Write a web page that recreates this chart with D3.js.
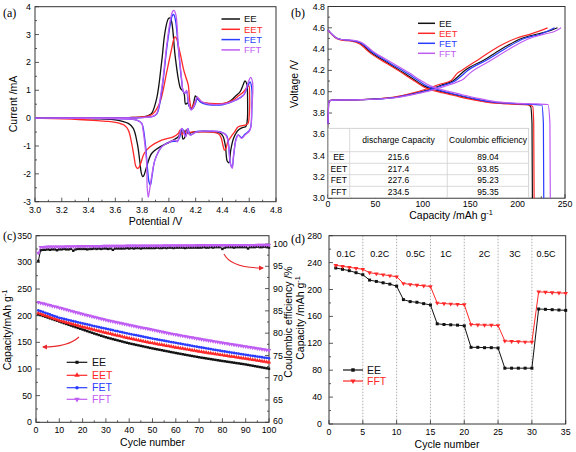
<!DOCTYPE html>
<html><head><meta charset="utf-8">
<script src="https://cdn.jsdelivr.net/npm/d3@7"></script>
<style>body{margin:0;background:#fff}svg{display:block;font-family:"Liberation Sans",Arial,Helvetica,sans-serif}</style>
</head><body><svg id="chart" width="576" height="452"></svg>
<script>
// ---------------- DATA ----------------
const seriesNames = ["EE", "EET", "FET", "FFT"];
const seriesColors = ["#111111", "#ff2828", "#2a3cff", "#bf5cf2"];

// (a) CV loops: [potential V, current mA]
const cvEE = [[3.0,0],[3.5,0.01],[3.7,0.02],[3.8,0.04],[3.85,0.1],[3.871,0.17],[3.909,0.71],[3.946,2.02],[3.971,3.09],[3.996,3.57],[4.008,3.60],[4.021,3.45],[4.046,2.26],[4.07,1.42],[4.088,1.06],[4.105,0.98],[4.115,0.85],[4.125,0.5],[4.14,0.55],[4.155,0.4],[4.17,0.35],[4.185,0.55],[4.198,0.8],[4.215,0.68],[4.24,0.58],[4.28,0.53],[4.35,0.5],[4.42,0.53],[4.46,0.62],[4.5,0.8],[4.531,0.94],[4.555,1.2],[4.568,1.34],[4.581,1.24],[4.588,0.6],[4.585,-0.1],[4.575,-0.3],[4.556,-0.33],[4.526,-0.4],[4.506,-0.5],[4.481,-0.75],[4.462,-1.15],[4.448,-1.6],[4.436,-1.55],[4.422,-1.0],[4.405,-0.66],[4.38,-0.53],[4.33,-0.49],[4.25,-0.48],[4.18,-0.5],[4.145,-0.55],[4.13,-0.42],[4.118,-0.7],[4.105,-0.75],[4.095,-0.45],[4.085,-0.5],[4.07,-0.67],[4.008,-0.85],[3.934,-1.03],[3.871,-1.27],[3.834,-1.74],[3.812,-2.07],[3.804,-2.10],[3.793,-1.95],[3.784,-1.6],[3.764,-0.91],[3.734,-0.37],[3.697,-0.19],[3.6,-0.06],[3.485,-0.03],[3.3,-0.01],[3.0,0]];
const cvEET = [[3.0,0],[3.5,0.01],[3.7,0.02],[3.8,0.04],[3.86,0.1],[3.884,0.17],[3.934,0.58],[3.984,1.66],[4.021,2.5],[4.038,2.86],[4.046,2.92],[4.058,2.85],[4.07,2.62],[4.09,2.2],[4.108,1.78],[4.128,1.45],[4.145,1.18],[4.157,0.58],[4.17,0.35],[4.19,0.55],[4.22,0.71],[4.24,0.6],[4.27,0.55],[4.35,0.52],[4.42,0.54],[4.48,0.65],[4.52,0.8],[4.556,0.94],[4.58,1.08],[4.597,1.17],[4.603,0.8],[4.6,0.1],[4.59,-0.2],[4.568,-0.25],[4.518,-0.31],[4.49,-0.5],[4.465,-0.66],[4.44,-0.85],[4.425,-1.1],[4.415,-1.15],[4.405,-1.0],[4.39,-0.7],[4.37,-0.56],[4.32,-0.5],[4.25,-0.49],[4.17,-0.5],[4.13,-0.55],[4.115,-0.45],[4.1,-0.6],[4.085,-0.42],[4.07,-0.55],[4.033,-0.67],[3.946,-0.79],[3.859,-1.03],[3.815,-1.27],[3.79,-1.62],[3.775,-1.78],[3.764,-1.80],[3.752,-1.72],[3.742,-1.45],[3.722,-0.91],[3.697,-0.43],[3.665,-0.25],[3.635,-0.19],[3.55,-0.12],[3.485,-0.1],[3.3,-0.04],[3.0,0]];
const cvFET = [[3.0,0],[3.6,0.01],[3.8,0.02],[3.88,0.06],[3.91,0.15],[3.946,0.95],[3.984,2.5],[4.008,3.3],[4.025,3.68],[4.035,3.72],[4.048,3.55],[4.07,2.55],[4.095,1.35],[4.108,0.95],[4.12,0.9],[4.133,0.95],[4.145,0.55],[4.165,0.32],[4.18,0.35],[4.2,0.55],[4.212,0.72],[4.23,0.6],[4.26,0.52],[4.32,0.47],[4.4,0.48],[4.45,0.55],[4.5,0.65],[4.556,0.82],[4.593,1.2],[4.606,1.3],[4.618,1.1],[4.62,0.4],[4.606,-0.4],[4.568,-0.58],[4.543,-0.7],[4.518,-0.6],[4.501,-0.75],[4.485,-1.3],[4.472,-1.75],[4.458,-1.6],[4.446,-0.95],[4.43,-0.62],[4.39,-0.5],[4.3,-0.47],[4.21,-0.48],[4.16,-0.6],[4.143,-0.38],[4.127,-0.65],[4.11,-0.45],[4.097,-0.38],[4.08,-0.7],[4.063,-0.82],[4.008,-0.85],[3.946,-1.03],[3.896,-1.5],[3.875,-2.05],[3.862,-2.40],[3.852,-2.3],[3.84,-1.8],[3.826,-1.0],[3.808,-0.35],[3.797,-0.19],[3.76,-0.07],[3.6,-0.02],[3.0,0]];
const cvFFT = [[3.0,0],[3.6,0.01],[3.8,0.02],[3.88,0.06],[3.909,0.17],[3.946,1.06],[3.984,2.62],[4.008,3.45],[4.028,3.83],[4.038,3.87],[4.053,3.69],[4.07,2.62],[4.095,1.42],[4.108,0.94],[4.12,0.9],[4.133,1.0],[4.145,0.6],[4.165,0.29],[4.185,0.4],[4.212,0.76],[4.23,0.65],[4.25,0.58],[4.3,0.5],[4.4,0.5],[4.45,0.56],[4.5,0.65],[4.556,0.82],[4.593,1.30],[4.611,1.46],[4.626,1.24],[4.618,0.29],[4.606,-0.43],[4.568,-0.61],[4.543,-0.73],[4.518,-0.61],[4.501,-0.79],[4.481,-1.39],[4.474,-1.80],[4.462,-1.7],[4.45,-1.2],[4.438,-0.75],[4.42,-0.58],[4.38,-0.49],[4.3,-0.47],[4.208,-0.49],[4.157,-0.61],[4.14,-0.37],[4.125,-0.67],[4.095,-0.37],[4.063,-0.85],[4.046,-0.79],[4.008,-0.85],[3.946,-1.03],[3.896,-1.5],[3.871,-2.10],[3.855,-2.6],[3.846,-2.84],[3.838,-2.5],[3.834,-1.62],[3.82,-0.91],[3.806,-0.4],[3.797,-0.19],[3.76,-0.07],[3.6,-0.02],[3.0,0]];

// (b) charge / discharge: [capacity mAh/g, voltage V]
const chgEE  = [[0,3.7],[1,3.91],[5,3.92],[35,3.925],[70,3.947],[91,3.985],[105,4.016],[120,4.063],[132,4.103],[139,4.157],[144,4.197],[165,4.30],[186,4.417],[204,4.50],[221,4.542],[235,4.575],[242.1,4.60]];
const chgEET = [[0,3.7],[1,3.91],[5,3.92],[35,3.925],[70,3.95],[90,3.99],[104,4.025],[118,4.07],[130,4.105],[136,4.17],[141,4.20],[160,4.31],[180,4.425],[198,4.50],[215,4.545],[231.6,4.60]];
const chgFET = [[0,3.7],[1,3.91],[5,3.92],[35,3.925],[70,3.945],[92,3.983],[106,4.013],[121,4.058],[134,4.10],[141,4.15],[146,4.19],[168,4.30],[189,4.415],[207,4.50],[224,4.54],[239,4.60]];
const chgFFT = [[0,3.7],[1,3.91],[5,3.92],[35,3.925],[70,3.943],[93,3.98],[108,4.01],[123,4.05],[136,4.09],[143,4.12],[149,4.17],[171,4.29],[193,4.41],[211,4.495],[228,4.54],[240,4.57],[245.9,4.60]];
const disEE  = [[0,4.58],[3,4.55],[8,4.51],[14,4.49],[25,4.48],[33,4.46],[45,4.37],[63,4.27],[81,4.17],[93,4.10],[102,4.05],[116,4.01],[134,3.97],[151,3.935],[169,3.905],[190,3.89],[210,3.88],[213.8,3.86],[215.2,3.7],[215.6,3.0]];
const disEET = [[0,4.575],[3,4.545],[8,4.505],[14,4.485],[25,4.475],[33,4.45],[45,4.36],[63,4.26],[81,4.16],[93,4.09],[102,4.04],[116,4.0],[134,3.962],[151,3.928],[169,3.9],[190,3.885],[212,3.877],[216,3.86],[217,3.7],[217.4,3.0]];
const disFET = [[0,4.58],[3,4.55],[8,4.51],[14,4.49],[25,4.48],[34,4.46],[47,4.37],[65,4.27],[84,4.17],[96,4.10],[105,4.05],[119,4.01],[137,3.97],[154,3.935],[172,3.905],[194,3.89],[215,3.88],[225.5,3.875],[227.2,3.7],[227.6,3.0]];
const disFFT = [[0,4.58],[3,4.55],[8,4.51],[14,4.49],[25,4.485],[35,4.465],[48,4.375],[67,4.275],[86,4.175],[98,4.105],[108,4.055],[122,4.015],[140,3.975],[157,3.94],[175,3.91],[197,3.893],[220,3.885],[232,3.88],[234.1,3.7],[234.5,3.0]];

// table in (b)
const tableHead = ["", "discharge Capacity", "Coulombic efficiency"];
const tableCap = ["215.6", "217.4", "227.6", "234.5"];
const tableCE = ["89.04", "93.85", "95.23", "95.35"];

// (c) cycling: capacity (mAh/g) per cycle 1..100
const capEE = [202.5,201,199.5,198,196.5,195,193.5,192,190.5,189,
187.5,186,184.5,183,181.5,180,178.5,177,175.5,174,
172.5,171,169.5,168,166.5,165.1,163.7,162.3,160.9,159.5,
158.3,157.2,156.0,154.9,153.7,152.6,151.5,150.3,149.2,148.1,
147.1,146.2,145.2,144.3,143.3,142.4,141.4,140.5,139.5,138.6,
137.7,136.9,136.0,135.2,134.3,133.5,132.6,131.7,130.9,130.0,
129.2,128.4,127.6,126.8,126.0,125.2,124.4,123.6,122.8,122.0,
121.3,120.6,119.9,119.2,118.5,117.8,117.1,116.4,115.7,115.0,
114.4,113.7,113.1,112.4,111.8,111.1,110.5,109.8,109.2,108.5,
107.7,106.9,106.1,105.3,104.5,103.7,102.9,102.1,101.3,100.5];
const capEET = [205,203.4,201.9,200.3,198.8,197.2,195.7,194.1,192.6,191,
189.8,188.6,187.4,186.2,185,183.8,182.6,181.4,180.2,179,
177.9,176.8,175.7,174.6,173.5,172.4,171.3,170.2,169.1,168,
167,165.9,164.9,163.8,162.8,161.7,160.7,159.6,158.6,157.5,
156.6,155.7,154.8,153.9,153,152.1,151.2,150.3,149.4,148.5,
147.7,146.9,146.1,145.3,144.5,143.7,142.9,142.1,141.3,140.5,
139.8,139,138.3,137.5,136.8,136,135.3,134.5,133.8,133,
132.3,131.6,130.9,130.2,129.5,128.8,128.1,127.4,126.7,126,
125.4,124.7,124.1,123.4,122.8,122.1,121.5,120.8,120.2,119.5,
118.8,118.1,117.4,116.7,116,115.3,114.6,113.9,113.2,112.5];
const capFET = [210,208.4,206.9,205.3,203.8,202.2,200.7,199.1,197.6,196,
195,193.9,192.9,191.8,190.8,189.7,188.7,187.6,186.6,185.5,
184.5,183.5,182.5,181.5,180.5,179.5,178.5,177.5,176.5,175.5,
174.6,173.6,172.7,171.7,170.8,169.8,168.9,167.9,167,166,
165.1,164.2,163.3,162.4,161.5,160.6,159.7,158.8,157.9,157,
156.2,155.4,154.6,153.8,153,152.2,151.4,150.6,149.8,149,
148.2,147.4,146.6,145.8,145,144.2,143.4,142.6,141.8,141,
140.3,139.5,138.8,138,137.3,136.5,135.8,135,134.3,133.5,
132.8,132.1,131.4,130.7,130,129.3,128.6,127.9,127.2,126.5,
125.9,125.2,124.6,123.9,123.3,122.6,122,121.3,120.7,120];
const capFFT = [225,223.9,222.8,221.7,220.6,219.4,218.3,217.2,216.1,215,
213.8,212.6,211.4,210.2,209,207.8,206.6,205.4,204.2,203,
201.9,200.8,199.7,198.6,197.5,196.4,195.3,194.2,193.1,192,
191.1,190.1,189.2,188.2,187.3,186.3,185.4,184.4,183.5,182.5,
181.6,180.7,179.8,178.9,178,177.1,176.2,175.3,174.4,173.5,
172.6,171.7,170.8,169.9,169,168.1,167.2,166.3,165.4,164.5,
163.7,162.9,162.1,161.3,160.5,159.7,158.9,158.1,157.3,156.5,
155.8,155,154.3,153.5,152.8,152,151.3,150.5,149.8,149,
148.3,147.6,146.9,146.2,145.5,144.8,144.1,143.4,142.7,142,
141.3,140.6,139.9,139.2,138.5,137.8,137.1,136.4,135.7,135];
// (c) coulombic efficiency (%) per cycle
const ceEE = [96.2,98.6,98.7,98.7,98.8,98.7,98.8,98.8,98.6,98.8,
98.8,98.9,98.8,98.8,98.9,98.5,98.8,98.9,98.9,98.9,
98.9,98.8,98.9,98.9,99.0,98.9,99.0,98.9,99.0,99.0,
98.9,99.0,98.7,99.0,99.0,99.0,99.0,99.0,99.1,99.0,
99.1,99.0,99.1,99.1,99.0,99.1,99.1,99.1,99.1,99.1,
99.1,99.2,99.1,99.1,99.2,99.1,99.2,99.2,99.1,99.2,
99.2,99.2,99.2,99.1,99.2,99.2,99.2,99.2,99.2,99.2,
99.2,99.3,99.2,99.2,99.3,99.2,99.3,99.3,99.3,98.9,
99.2,99.3,99.3,99.3,99.2,99.3,99.3,99.3,99.3,99.3,
99.0,99.3,99.3,99.3,99.4,99.3,99.3,99.4,99.3,99.2];
const ceFFT = [98.0,99.3,99.3,99.35,99.4,99.4,99.4,99.4,99.4,99.4,
99.4,99.4,99.45,99.45,99.45,99.45,99.45,99.5,99.5,99.5,
99.5,99.5,99.5,99.5,99.5,99.5,99.5,99.5,99.55,99.55,
99.55,99.55,99.55,99.55,99.55,99.55,99.55,99.55,99.6,99.6,
99.6,99.6,99.6,99.6,99.6,99.6,99.6,99.6,99.6,99.6,
99.6,99.6,99.6,99.6,99.65,99.65,99.65,99.65,99.65,99.65,
99.65,99.65,99.65,99.65,99.65,99.65,99.65,99.65,99.7,99.7,
99.7,99.7,99.7,99.7,99.7,99.7,99.7,99.7,99.7,99.7,
99.7,99.7,99.7,99.75,99.75,99.75,99.75,99.75,99.75,99.75,
99.75,99.75,99.75,99.75,99.8,99.8,99.8,99.8,99.8,99.8];

// (d) rate capability, cycles 1..35
const rateEE = [232,230,228,225,222,214,212,210,208,205,185,182,181,179,177,149,148,147.5,147,146,114,114,113.5,113.5,113,83,83,83,83,83,171,170.5,170,169.5,169];
const rateFFT = [236,234.5,233,231.5,230,225,223.5,222,220.5,219,209,207.5,206.5,205.5,204.5,180,179,178.5,178,177.5,148,147.5,147,147,146.5,123.5,123,122.5,122,122,196.5,196,195.5,195,194.5];
const rateLabels = ["0.1C","0.2C","0.5C","1C","2C","3C","0.5C"];
const rateLabelX = [2.5,7.5,12.8,17.3,23,27.5,32.1];
const rateBounds = [5,10,15,20,25,30];

// ---------------- DRAW ----------------
const svg = d3.select("#chart");
svg.append("rect").attr("width",576).attr("height",452).attr("fill","#fff");
const AX = "#333";
const TICKFS = 8.8, TITLEFS = 10.5;

function axes(g, x, y, o) {
  const [x0,x1] = x.range(), [y0,y1] = y.range();
  g.append("rect").attr("x",x0).attr("y",y1).attr("width",x1-x0).attr("height",y0-y1)
    .attr("fill","none").attr("stroke",AX).attr("stroke-width",1);
  const tk = (x1a,y1a,x2a,y2a)=>g.append("line").attr("x1",x1a).attr("y1",y1a).attr("x2",x2a).attr("y2",y2a).attr("stroke",AX).attr("stroke-width",0.8);
  (o.xminor||[]).forEach(v=>{const p=x(v); tk(p,y0,p,y0-2);});
  (o.yminor||[]).forEach(v=>{const p=y(v); tk(x0,p,x0+2,p);});
  o.xt.forEach(v=>{const p=x(v); tk(p,y0,p,y0-4);
    g.append("text").attr("x",p).attr("y",o.xly).attr("text-anchor","middle").attr("font-size",TICKFS).text(o.xf(v));});
  o.yt.forEach(v=>{const p=y(v); tk(x0,p,x0+4,p);
    g.append("text").attr("x",o.ylx).attr("y",p).attr("dy","0.35em").attr("text-anchor","end").attr("font-size",TICKFS).text(o.yf(v));});
}
function rotTitle(x, y, parts, fs) {
  const t = svg.append("text").attr("transform",`translate(${x},${y}) rotate(-90)`).attr("text-anchor","middle").attr("font-size",fs||TITLEFS);
  parts(t);
}
function title(x, y, parts, fs) {
  const t = svg.append("text").attr("x",x).attr("y",y).attr("text-anchor","middle").attr("font-size",fs||TITLEFS);
  parts(t);
}
function supG(t, base) { t.append("tspan").text(base); t.append("tspan").attr("dy",-4).attr("font-size","0.7em").text("-1"); }
function panelLabel(x,y,s){ svg.append("text").attr("x",x).attr("y",y).attr("font-family","'Liberation Serif','Times New Roman',serif").attr("font-size",12).text(s); }
const range = (a,b,s)=>d3.range(a,b+s/2,s);

// ===== (a) =====
const xa = d3.scaleLinear([3,4.8],[35,276]);
const ya = d3.scaleLinear([-3,4],[201.7,6.7]);
const ga = svg.append("g");
axes(ga, xa, ya, {xt:range(3,4.8,0.2), xminor:range(3.1,4.7,0.2), yt:range(-3,4,1), yminor:range(-2.5,3.5,1),
  xly:212.5, ylx:31, xf:d=>d.toFixed(1), yf:d=>String(Math.round(d))});
const cvAll = [cvEE, cvEET, cvFET, cvFFT];
const lineA = d3.line().x(d=>xa(d[0])).y(d=>ya(d[1])).curve(d3.curveCatmullRom.alpha(0.5));
cvAll.forEach((s,i)=>ga.append("path").attr("d",lineA(s)).attr("fill","none").attr("stroke",seriesColors[i]).attr("stroke-width",1.3));
seriesNames.forEach((n,i)=>{
  const yy = 19 + i*10.3;
  ga.append("line").attr("x1",221.5).attr("x2",240).attr("y1",yy).attr("y2",yy).attr("stroke",seriesColors[i]).attr("stroke-width",1.5);
  ga.append("text").attr("x",244).attr("y",yy).attr("dy","0.35em").attr("font-size",9.5).attr("fill",seriesColors[i]).text(n);
});
title(155.5, 225, t=>t.text("Potential /V"));
rotTitle(17, 104, t=>t.text("Current /mA"));
panelLabel(3,17,"(a)");

// ===== (b) =====
const xb = d3.scaleLinear([0,250],[328,565]);
const yb = d3.scaleLinear([3,4.8],[198.2,6.5]);
const gb = svg.append("g");
axes(gb, xb, yb, {xt:range(0,250,50), xminor:range(25,225,50), yt:range(3,4.8,0.2), yminor:range(3.1,4.7,0.2),
  xly:206.5, ylx:325, xf:d=>String(d), yf:d=>d.toFixed(1)});
const lineB = d3.line().x(d=>xb(d[0])).y(d=>yb(d[1])).curve(d3.curveMonotoneX);
const chgAll = [chgEE, chgEET, chgFET, chgFFT], disAll = [disEE, disEET, disFET, disFFT];
[0,1,2,3].forEach(i=>{
  gb.append("path").attr("d",lineB(chgAll[i])).attr("fill","none").attr("stroke",seriesColors[i]).attr("stroke-width",1.2);
  gb.append("path").attr("d",lineB(disAll[i])).attr("fill","none").attr("stroke",seriesColors[i]).attr("stroke-width",1.2);
});
// table
const tX = [328, 349.7, 447.3, 528.7], tY = [128.3, 151.7, 163.3, 174.7, 186.3, 198];
gb.append("rect").attr("x",tX[0]+0.5).attr("y",tY[0]).attr("width",tX[3]-tX[0]-0.5).attr("height",tY[5]-tY[0]-0.5).attr("fill","#fff").attr("stroke","#c8c8c8").attr("stroke-width",0.8);
tY.slice(1,5).forEach(yv=>gb.append("line").attr("x1",tX[0]).attr("x2",tX[3]).attr("y1",yv).attr("y2",yv).attr("stroke","#d0d0d0").attr("stroke-width",0.8));
tX.slice(1,3).forEach(xv=>gb.append("line").attr("x1",xv).attr("x2",xv).attr("y1",tY[0]).attr("y2",tY[5]).attr("stroke","#d0d0d0").attr("stroke-width",0.8));
const cMid = [(tX[0]+tX[1])/2, (tX[1]+tX[2])/2, (tX[2]+tX[3])/2];
tableHead.forEach((h,j)=>gb.append("text").attr("x",cMid[j]).attr("y",(tY[0]+tY[1])/2).attr("dy","0.35em").attr("text-anchor","middle").attr("font-size",8.5).text(h));
seriesNames.forEach((n,i)=>{
  const yy = (tY[i+1]+tY[i+2])/2;
  [n, tableCap[i], tableCE[i]].forEach((v,j)=>gb.append("text").attr("x",cMid[j]).attr("y",yy).attr("dy","0.35em").attr("text-anchor","middle").attr("font-size",8.5).text(v));
});
seriesNames.forEach((n,i)=>{
  const yy = 23.3 + i*10;
  gb.append("line").attr("x1",418).attr("x2",435).attr("y1",yy).attr("y2",yy).attr("stroke",seriesColors[i]).attr("stroke-width",1.5);
  gb.append("text").attr("x",439).attr("y",yy).attr("dy","0.35em").attr("font-size",9.5).attr("fill",seriesColors[i]).text(n);
});
title(451, 218.5, t=>supG(t,"Capacity /mAh g"));
rotTitle(298, 84, t=>t.text("Voltage /V"));
panelLabel(291,17,"(b)");

// ===== (c) =====
const xc = d3.scaleLinear([0,100],[36,269]);
const yc = d3.scaleLinear([0,350],[422.3,235.7]);
const yc2 = d3.scaleLinear([60,102],[422.3,235.1]);
const gc = svg.append("g");
axes(gc, xc, yc, {xt:range(0,100,10), xminor:range(5,95,10), yt:range(0,350,50), yminor:range(25,325,50),
  xly:433, ylx:32, xf:d=>String(d), yf:d=>String(d)});
range(60,100,5).forEach(v=>{const p=yc2(v);
  gc.append("line").attr("x1",269).attr("x2",265).attr("y1",p).attr("y2",p).attr("stroke",AX).attr("stroke-width",0.8);
  gc.append("text").attr("x",273).attr("y",p).attr("dy",v===60?"0.15em":"0.35em").attr("font-size",TICKFS).text(String(v));});
range(62.5,97.5,5).forEach(v=>{const p=yc2(v);
  gc.append("line").attr("x1",269).attr("x2",267).attr("y1",p).attr("y2",p).attr("stroke",AX).attr("stroke-width",0.8);});
const symTypes = [d3.symbolSquare, d3.symbolTriangle, d3.symbolCircle, d3.symbolTriangle];
const symRot = [0,0,0,180];
const symSize = [6,8,6,8];
function drawSeries(g, xs, ys, vals, i, sizeMul) {
  const pts = vals.map((v,k)=>[k+1,v]);
  g.append("path").attr("d",d3.line().x(d=>xs(d[0])).y(d=>ys(d[1]))(pts)).attr("fill","none").attr("stroke",seriesColors[i]).attr("stroke-width",1);
  const sym = d3.symbol(symTypes[i], symSize[i]*(sizeMul||1));
  g.selectAll(null).data(pts).join("path").attr("d",sym())
    .attr("transform",d=>`translate(${xs(d[0])},${ys(d[1])}) rotate(${symRot[i]})`).attr("fill",seriesColors[i]);
}
[capEE, capEET, capFET, capFFT].forEach((s,i)=>drawSeries(gc, xc, yc, s, i));
drawSeries(gc, xc, yc2, ceEE, 0);
drawSeries(gc, xc, yc2, ceFFT, 3);
// arrows
const arrowRed = "#e8282c";
svg.append("defs").append("marker").attr("id","ah").attr("viewBox","0 0 10 10").attr("refX",8).attr("refY",5)
  .attr("markerWidth",5).attr("markerHeight",5).attr("orient","auto")
  .append("path").attr("d","M0,0L10,5L0,10z").attr("fill",arrowRed);
gc.append("path").attr("d","M224,254 Q231,268 263,268").attr("fill","none").attr("stroke",arrowRed).attr("stroke-width",1.1).attr("marker-end","url(#ah)");
gc.append("path").attr("d","M79,337 Q68,347 43,347").attr("fill","none").attr("stroke",arrowRed).attr("stroke-width",1.1).attr("marker-end","url(#ah)");
seriesNames.forEach((n,i)=>{
  const yy = [362.3,375.3,387.7,399.3][i];
  gc.append("line").attr("x1",66.7).attr("x2",87.3).attr("y1",yy).attr("y2",yy).attr("stroke",seriesColors[i]).attr("stroke-width",1.2);
  gc.append("path").attr("d",d3.symbol(symTypes[i], symSize[i]*1.6)()).attr("transform",`translate(77,${yy}) rotate(${symRot[i]})`).attr("fill",seriesColors[i]);
  gc.append("text").attr("x",92).attr("y",yy).attr("dy","0.35em").attr("font-size",10.5).attr("fill",seriesColors[i]).text(n);
});
title(152.5, 446, t=>t.text("Cycle number"));
rotTitle(11, 330, t=>supG(t,"Capacity/mAh g"), 10.5);
rotTitle(292, 322, t=>t.text("Coulombic efficiency /%"), 10.5);
panelLabel(3,240,"(c)");

// ===== (d) =====
const xd = d3.scaleLinear([0,35],[329,565.7]);
const yd = d3.scaleLinear([0,280],[424,235.7]);
const gd = svg.append("g");
rateBounds.forEach(v=>gd.append("line").attr("x1",xd(v)).attr("x2",xd(v)).attr("y1",235.7).attr("y2",424).attr("stroke","#9a9a9a").attr("stroke-width",0.8).attr("stroke-dasharray","1.5,1.5"));
axes(gd, xd, yd, {xt:range(0,35,5), yt:range(0,280,40), yminor:range(20,260,40),
  xly:435, ylx:322, xf:d=>String(d), yf:d=>String(d)});
const dCols = ["#111111", "#ff2828"];
function drawRate(vals, c, symType, rot) {
  const pts = vals.map((v,k)=>[k+1,v]);
  gd.append("path").attr("d",d3.line().x(d=>xd(d[0])).y(d=>yd(d[1]))(pts)).attr("fill","none").attr("stroke",c).attr("stroke-width",1);
  gd.selectAll(null).data(pts).join("path").attr("d",d3.symbol(symType, 9)())
    .attr("transform",d=>`translate(${xd(d[0])},${yd(d[1])}) rotate(${rot})`).attr("fill",c);
}
drawRate(rateEE, dCols[0], d3.symbolSquare, 0);
drawRate(rateFFT, dCols[1], d3.symbolTriangle, 180);
rateLabels.forEach((l,i)=>gd.append("text").attr("x",xd(rateLabelX[i])).attr("y",256.5).attr("text-anchor","middle").attr("font-size",9).text(l));
[["EE",370,d3.symbolSquare,0],["FFT",381,d3.symbolTriangle,180]].forEach((r,i)=>{
  gd.append("line").attr("x1",343).attr("x2",363).attr("y1",r[1]).attr("y2",r[1]).attr("stroke",dCols[i]).attr("stroke-width",1.2);
  gd.append("path").attr("d",d3.symbol(r[2],12)()).attr("transform",`translate(353,${r[1]}) rotate(${r[3]})`).attr("fill",dCols[i]);
  gd.append("text").attr("x",367).attr("y",r[1]).attr("dy","0.35em").attr("font-size",10.5).attr("fill",dCols[i]).text(r[0]);
});
title(447, 447.5, t=>t.text("Cycle number"));
rotTitle(304, 318, t=>supG(t,"Capacity /mAh g"), 10.5);
panelLabel(291,243,"(d)");
</script></body></html>
